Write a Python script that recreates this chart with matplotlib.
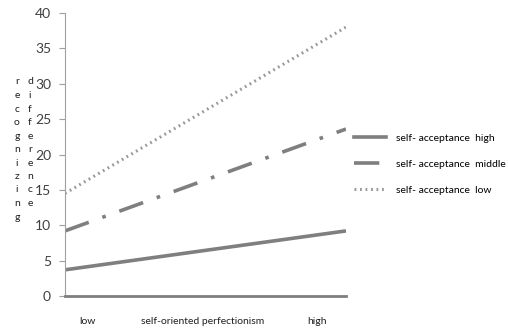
import matplotlib
matplotlib.use("Agg")
import matplotlib.pyplot as plt
from matplotlib.lines import Line2D

plt.rcParams['font.family'] = ['Lato', 'DejaVu Sans']

levels = ["low", "high"]
x_pos = [0, 1]
acc_high = [3.7, 9.2]
acc_middle = [9.2, 23.6]
acc_low = [14.5, 38.0]
series_names = ["self- acceptance  high", "self- acceptance  middle", "self- acceptance  low"]
y_ticks = [0, 5, 10, 15, 20, 25, 30, 35, 40]

grey = "#7f7f7f"
fs = 7.5

fig = plt.figure(figsize=(5.08, 3.29), dpi=100)
ax = fig.add_axes([65 / 508, 1 - 296 / 329, 281 / 508, 283 / 329])

ax.plot(x_pos, acc_high, color=grey, lw=2.6, solid_capstyle='butt')
ax.plot(x_pos, acc_middle, color=grey, lw=2.6, dashes=(7, 4, 1, 4), dash_capstyle='butt')
ax.plot(x_pos, acc_low, color="#9a9a9a", lw=2.2, dashes=(0.6, 1.2))

ax.set_xlim(0, 1)
ax.set_ylim(0, 40)
ax.set_yticks(y_ticks)
ax.tick_params(axis='y', length=4, width=0.8, color='#a0a0a0', labelsize=10, pad=6, labelcolor='#404040')
ax.set_xticks([])
for s in ['top', 'right']:
    ax.spines[s].set_visible(False)
ax.spines['left'].set_color('#a0a0a0')
ax.spines['bottom'].set_color(grey)
ax.spines['bottom'].set_linewidth(2)

# x labels
ax.text(0.08, -0.09, levels[0], transform=ax.transAxes, ha='center', va='center', fontsize=fs, color='#202020')
ax.text(0.49, -0.09, "self-oriented perfectionism", transform=ax.transAxes, ha='center', va='center', fontsize=fs, color='#202020')
ax.text(0.897, -0.09, levels[1], transform=ax.transAxes, ha='center', va='center', fontsize=fs, color='#202020')

# stacked y label
for i, ch in enumerate("recognizing"):
    fig.text(17 / 508, 1 - (82 + i * 13.5) / 329, ch, ha='center', va='center', fontsize=fs, color='#202020')
for i, ch in enumerate("difference"):
    fig.text(30 / 508, 1 - (82 + i * 13.5) / 329, ch, ha='center', va='center', fontsize=fs, color='#202020')

handles = [
    Line2D([], [], color=grey, lw=2.6),
    Line2D([], [], color=grey, lw=2.6, dashes=(7, 4, 1, 4)),
    Line2D([], [], color="#9a9a9a", lw=2.2, dashes=(0.6, 1.2)),
]
fig.legend(handles, series_names, loc='center left', bbox_to_anchor=(346 / 508, 1 - 164 / 329),
           frameon=False, fontsize=fs, handlelength=3.0, labelspacing=1.6, handletextpad=1.0,
           borderpad=0.3)

fig.savefig("out.png", dpi=100)
